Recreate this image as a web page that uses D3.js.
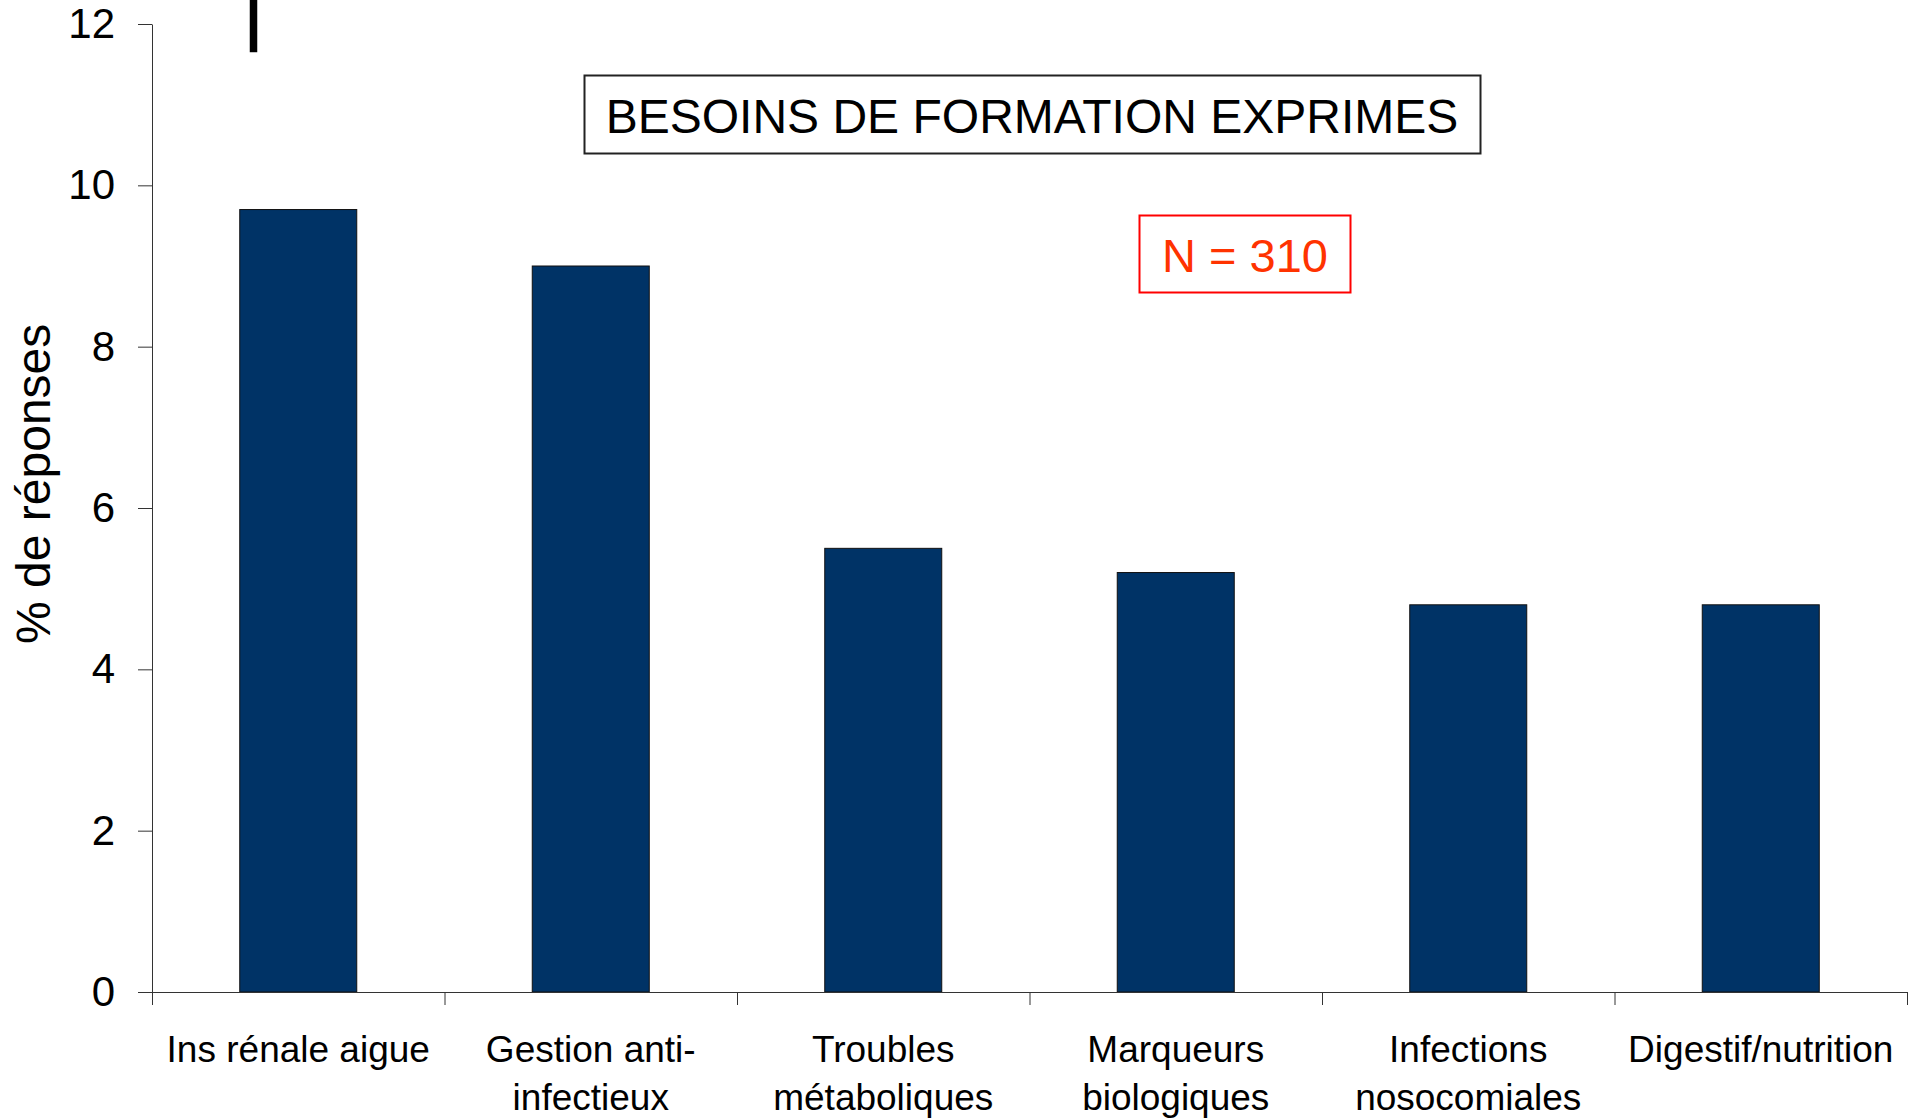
<!DOCTYPE html>
<html>
<head>
<meta charset="utf-8">
<script src="https://cdn.jsdelivr.net/npm/d3@7"></script>
<style>
  html, body { margin: 0; padding: 0; background: #fff; }
  svg { display: block; font-family: "Liberation Sans", Arial, sans-serif; }
</style>
</head>
<body>
<div id="chart"></div>
<script>
// Chart values
var categories = ["Ins rénale aigue", "Gestion anti-infectieux", "Troubles métaboliques",
                  "Marqueurs biologiques", "Infections nosocomiales", "Digestif/nutrition"];
// label lines as they are wrapped under the axis
var labelLines = [["Ins rénale aigue"], ["Gestion anti-", "infectieux"], ["Troubles", "métaboliques"],
                  ["Marqueurs", "biologiques"], ["Infections", "nosocomiales"], ["Digestif/nutrition"]];
var percents   = [9.7, 9.0, 5.5, 5.2, 4.8, 4.8];
var yTicks     = [0, 2, 4, 6, 8, 10, 12];
var title      = "BESOINS DE FORMATION EXPRIMES";
var sampleNote = "N = 310";
var yTitle     = "% de réponses";

var width  = 1916,
    height = 1119,
    margins = {"top": 24, "bottom": 127, "left": 152, "right": 9};

var svg = d3.select("#chart")
  .append("svg")
    .attr("width", width)
    .attr("height", height);

var x = d3.scaleBand()
  .domain(categories)
  .range([margins.left, width - margins.right])
  .paddingInner(0.6)
  .paddingOuter(0.3);

var y = d3.scaleLinear()
  .domain([0, 12])
  .range([height - margins.bottom, margins.top]);

// Bars
svg.append("g")
    .attr("class", "bars")
  .selectAll("rect")
  .data(percents)
  .enter()
  .append("rect")
    .attr("x", function(d, i) { return x(categories[i]); })
    .attr("y", function(d) { return y(d); })
    .attr("width", x.bandwidth())
    .attr("height", function(d) { return y(0) - y(d); })
    .attr("fill", "#003366")
    .attr("stroke", "#111")
    .attr("stroke-width", 1);

// Y axis
var yAxis = svg.append("g")
  .attr("transform", "translate(" + margins.left + ",0)")
  .call(d3.axisLeft(y).tickValues(yTicks).tickSize(14).tickPadding(23).tickSizeOuter(0));
yAxis.select(".domain").attr("stroke", "#333");
yAxis.selectAll(".tick line").attr("stroke", "#333");
yAxis.selectAll(".tick text")
  .attr("font-size", 42)
  .attr("font-family", "Liberation Sans, Arial, sans-serif")
  .attr("fill", "#000");

// X axis line with ticks between the categories
var step = x.step();
var xAxis = svg.append("g").attr("class", "x-axis");
xAxis.append("line")
  .attr("x1", margins.left - 14)
  .attr("x2", width - margins.right)
  .attr("y1", y(0) + 0.5)
  .attr("y2", y(0) + 0.5)
  .attr("stroke", "#333");
xAxis.selectAll("line.sep")
  .data(d3.range(categories.length + 1))
  .enter()
  .append("line")
    .attr("class", "sep")
    .attr("x1", function(i) { return margins.left + i * step + 0.5; })
    .attr("x2", function(i) { return margins.left + i * step + 0.5; })
    .attr("y1", y(0))
    .attr("y2", y(0) + 13)
    .attr("stroke", "#333");

// Category labels
var labels = xAxis.selectAll("text.cat")
  .data(labelLines)
  .enter()
  .append("text")
    .attr("class", "cat")
    .attr("text-anchor", "middle")
    .attr("font-size", 37)
    .attr("fill", "#000")
    .attr("transform", function(d, i) {
      return "translate(" + (x(categories[i]) + x.bandwidth() / 2) + "," + (y(0) + 70) + ")";
    });
labels.selectAll("tspan")
  .data(function(d) { return d; })
  .enter()
  .append("tspan")
    .attr("x", 0)
    .attr("y", function(d, j) { return j * 48; })
    .text(function(d) { return d; });

// Y axis title
svg.append("text")
  .attr("transform", "translate(50," + y(6.3) + ") rotate(-90)")
  .attr("text-anchor", "middle")
  .attr("font-size", 48)
  .attr("fill", "#000")
  .text(yTitle);

// Title box
svg.append("rect")
  .attr("x", 584.5)
  .attr("y", 75.5)
  .attr("width", 896)
  .attr("height", 78)
  .attr("fill", "#fff")
  .attr("stroke", "#222")
  .attr("stroke-width", 2);
svg.append("text")
  .attr("x", 1032)
  .attr("y", 133)
  .attr("text-anchor", "middle")
  .attr("font-size", 48)
  .attr("fill", "#000")
  .text(title);

// Sample size box
svg.append("rect")
  .attr("x", 1139.5)
  .attr("y", 215.5)
  .attr("width", 211)
  .attr("height", 77)
  .attr("fill", "#fff")
  .attr("stroke", "#ff0000")
  .attr("stroke-width", 2);
svg.append("text")
  .attr("x", 1245)
  .attr("y", 272)
  .attr("text-anchor", "middle")
  .attr("font-size", 47)
  .attr("fill", "#ff3300")
  .text(sampleNote);

// Short black stroke at the top of the first column
svg.append("rect")
  .attr("x", x(categories[0]) + 10)
  .attr("y", y(12.3))
  .attr("width", 7.5)
  .attr("height", y(11.65) - y(12.3))
  .attr("fill", "#000");
</script>
</body>
</html>
